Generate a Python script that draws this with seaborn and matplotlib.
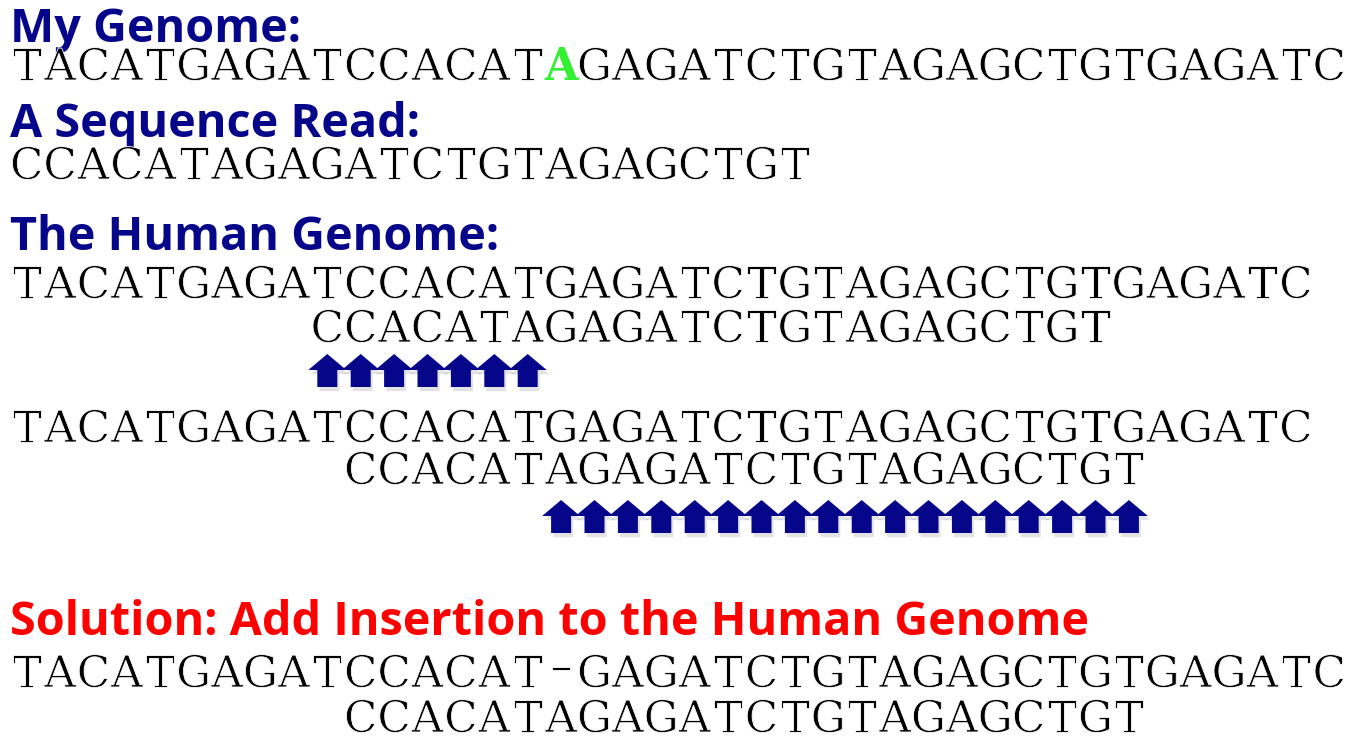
import numpy as np
import matplotlib
matplotlib.use("Agg")
import matplotlib.pyplot as plt
import matplotlib.patheffects as pe
from matplotlib.path import Path
import seaborn as sns

# sequences shown on the slide
my_genome = "TACATGAGATCCACATAGAGATCTGTAGAGCTGTGAGATC"
inserted_index = 16          # the extra A in my genome (green)
read_seq = "CCACATAGAGATCTGTAGAGCTGT"
human_genome = "TACATGAGATCCACATGAGATCTGTAGAGCTGTGAGATC"
gapped_genome = "TACATGAGATCCACAT-GAGATCTGTAGAGCTGTGAGATC"

# two tried alignments of the read against the human genome
read_offsets = [9, 10]
# read positions flagged by arrows (start, stop) for each alignment
arrow_spans = [(0, 7), (6, 24)]
solution_offset = 10

headings = ["My Genome:", "A Sequence Read:", "The Human Genome:",
            "Solution: Add Insertion to the Human Genome"]

navy = "#06068A"
red = "#FF0000"
green = "#33F033"

sns.set_theme(style="white")
plt.rcParams["font.family"] = ["DejaVu Serif", "DejaVu Sans"]

W, H, DPI = 1353, 739, 100
fig = plt.figure(figsize=(W / DPI, H / DPI), dpi=DPI)
ax = fig.add_axes([0, 0, 1, 1])

# typewriter look: every base sits in a fixed-width cell
pitch = 33.4
x0 = 10
seq_font = "DejaVu Serif"
seq_size = 31.5
thin = [pe.Stroke(linewidth=0.6, foreground="white")]
head_font = "Open Sans"
head_size = 33.7


def col_x(c):
    return x0 + (c + 0.5) * pitch


def seq(text, y, col=0, color="black", weight="normal", effects=thin):
    for i, ch in enumerate(text):
        if ch == " ":
            continue
        ty = y
        if ch == "-":
            # gap drawn as a longer dash at mid letter height
            ch = "\u2013"
            ty = y - 7
        ax.text(col_x(col + i), ty, ch, family=seq_font, fontsize=seq_size,
                fontweight=weight, va="baseline", ha="center", color=color,
                path_effects=effects)


def head(text, y, color=navy):
    ax.text(x0, y, text, family=head_font, fontweight="bold",
            fontsize=head_size, va="baseline", ha="left", color=color)


# my genome with the inserted base highlighted
head(headings[0], 42)
seq(my_genome[:inserted_index], 80)
seq(my_genome[inserted_index], 80, col=inserted_index, color=green,
    weight="bold", effects=None)
seq(my_genome[inserted_index + 1:], 80, col=inserted_index + 1)

head(headings[1], 137)
seq(read_seq, 179)

head(headings[2], 250)

# arrow marker: wide head, narrow shaft
arrow = Path([(0, 16.5), (19, 0.5), (10, 0.5), (10, -16.5), (-10, -16.5),
              (-10, 0.5), (-19, 0.5), (0, 16.5)], closed=True)
arrow_s = (38 * 72 / DPI) ** 2
shadow = [pe.SimplePatchShadow(offset=(1.5, -3), shadow_rgbFace=(0.5, 0.5, 0.55),
                               alpha=0.22), pe.Normal()]

rows = [(298, 342, 370.5), (442, 484, 516.5)]
for (gy, ry, ay), off, (a, b) in zip(rows, read_offsets, arrow_spans):
    seq(human_genome, gy)
    seq(read_seq, ry, col=off)
    cols = np.arange(off + a, off + b)
    xs = col_x(cols)
    sns.scatterplot(x=xs, y=np.full(len(xs), ay), marker=arrow, s=arrow_s,
                    color=navy, edgecolor="none", linewidth=0, legend=False,
                    ax=ax, path_effects=shadow, zorder=3)

head(headings[3], 635, color=red)
seq(gapped_genome, 687)
seq(read_seq, 732, col=solution_offset)

ax.set_xlim(0, W)
ax.set_ylim(H, 0)
ax.axis("off")
fig.savefig("out.png", dpi=DPI, facecolor="white")
